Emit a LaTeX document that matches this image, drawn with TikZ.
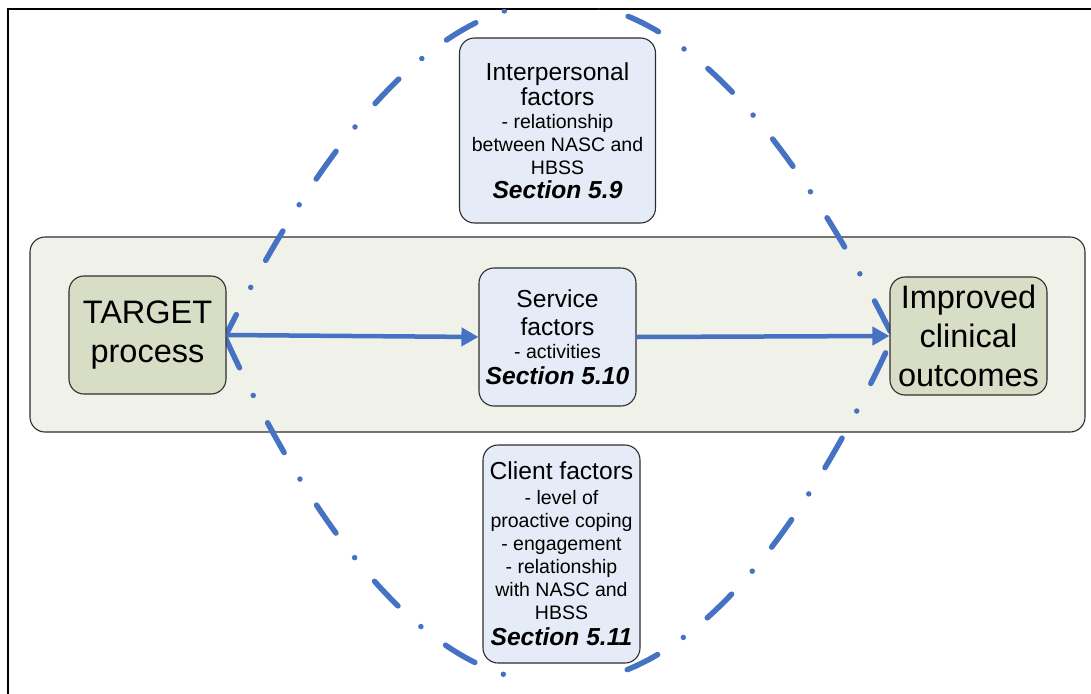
\documentclass[tikz,border=0pt]{standalone}
\usepackage{fontspec}
\setmainfont{Liberation Sans}
\usetikzlibrary{arrows.meta}
\definecolor{flowclr}{RGB}{70,114,196}
\definecolor{bandclr}{RGB}{240,241,233}
\definecolor{endclr}{RGB}{216,221,198}
\definecolor{factclr}{RGB}{229,236,247}
\definecolor{edgeclr}{RGB}{45,45,45}
\tikzset{
    band/.style={rectangle,draw=edgeclr,line width=1.1pt,fill=bandclr,rounded corners=15pt,minimum width=1055pt,minimum height=195pt,inner sep=0pt},
    endbox/.style={rectangle,draw=edgeclr,line width=1.1pt,fill=endclr,rounded corners=15pt,minimum width=157pt,minimum height=118pt,inner sep=0pt,align=center,font=\fontsize{32.5}{39}\selectfont},
    factbox/.style={rectangle,draw=edgeclr,line width=1.1pt,fill=factclr,rounded corners=15pt,inner sep=0pt,align=center,font=\fontsize{19.5}{23}\selectfont},
    flow/.style={-{Triangle[length=17pt,width=18pt]},draw=flowclr,line width=4.5pt},
    ring/.style={draw=flowclr,line width=5.5pt,line cap=round,dash pattern=on 34pt off 30.9pt on 0pt off 30.9pt},
}
\newcommand{\bigline}[1]{{\fontsize{24.6}{26}\selectfont #1}}
\newcommand{\secline}[1]{{\fontsize{24.6}{26}\selectfont\bfseries\itshape #1}}

\begin{document}
\begin{tikzpicture}[x=1pt,y=-1pt]
\useasboundingbox (0,0) rectangle (1091,693);
\begin{scope}
\clip (0,0) rectangle (1091,693);
\draw[line width=2pt] (8,9) rectangle (1110,712);
\node[band] (band) at (557.5,334.5) {};

% dash-dot outline round the factors
\begin{scope}
\clip (8,9) -- (1091,9) -- (1091,680) -- (612,680) -- (612,674) -- (515,674) -- (515,680) -- (8,680) -- cycle;
\draw[ring,dash phase=9pt] (225,337) .. controls (447.7,-109.7) and (670.3,-109.7) .. (893,337);
\draw[ring] (225,337) .. controls (437,799) and (681,799) .. (893,337);
\end{scope}

\node[endbox] (target)  at (147.5,335) {TARGET\\process};
\node[endbox] (outcome) at (968.5,336) {Improved\\clinical\\outcomes};

\node[factbox,minimum width=157pt,minimum height=138pt] (service) at (557.5,337)
    {\bigline{Service}\\[5pt]\bigline{factors}\\- activities\\[3pt]\secline{Section 5.10}};
\node[factbox,minimum width=196pt,minimum height=185pt] (inter) at (557.5,130.5)
    {\bigline{Interpersonal}\\[2pt]\bigline{factors}\\- relationship\\between NASC and\\HBSS\\[1pt]\secline{Section 5.9}};
\node[factbox,minimum width=157pt,minimum height=218pt] (client) at (561.5,554)
    {\bigline{Client factors}\\[2pt]- level of\\proactive coping\\- engagement\\- relationship\\with NASC and\\HBSS\\[3pt]\secline{Section 5.11}};

\draw[flow] (target.east) -- (service.west);
\draw[flow] (service.east) -- (outcome.west);
\end{scope}
\end{tikzpicture}
\end{document}
